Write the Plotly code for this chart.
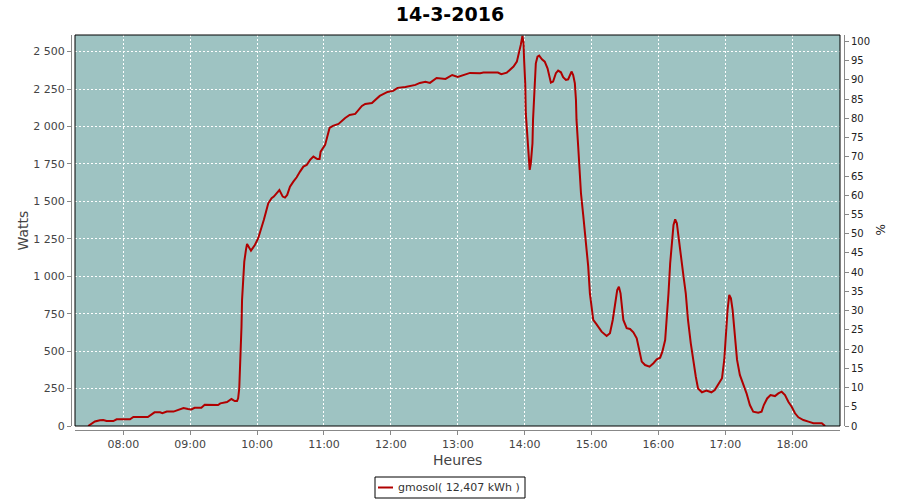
import plotly.graph_objects as go
import pandas as pd

DAY = "2016-03-14"
TITLE = "14-3-2016"
SERIES_NAME = "gmosol( 12,407 kWh )"

times = [
    "07:28:30", "07:31:30", "07:34:30", "07:39:00", "07:42:00", "07:45:00", "07:51:00", "07:54:00",
    "08:06:00", "08:09:00", "08:22:00", "08:28:00", "08:33:00", "08:35:00", "08:39:00", "08:45:00",
    "08:54:00", "08:58:00", "09:01:00", "09:04:00", "09:10:00", "09:13:00", "09:18:00", "09:25:00",
    "09:27:00", "09:33:00", "09:37:00", "09:40:00", "09:42:00", "09:43:00", "09:44:00", "09:44:30",
    "09:45:30", "09:46:00", "09:46:30", "09:47:30", "09:48:30", "09:50:00", "09:51:00", "09:54:30",
    "09:58:00", "10:01:00", "10:04:00", "10:06:00", "10:08:00", "10:10:00", "10:13:00", "10:15:00",
    "10:18:00", "10:20:00", "10:23:00", "10:25:00", "10:27:00", "10:29:30", "10:32:30", "10:35:30",
    "10:38:30", "10:41:30", "10:44:30", "10:47:30", "10:50:30", "10:54:00", "10:56:00", "10:57:00",
    "11:01:00", "11:05:00", "11:08:00", "11:13:00", "11:19:00", "11:23:00", "11:28:00", "11:34:00",
    "11:37:00", "11:43:00", "11:50:00", "11:57:00", "12:02:00", "12:06:00", "12:13:00", "12:22:00",
    "12:26:00", "12:31:00", "12:35:00", "12:41:00", "12:49:00", "12:55:00", "13:00:00", "13:07:00",
    "13:11:00", "13:20:00", "13:23:00", "13:36:00", "13:39:00", "13:44:00", "13:47:00", "13:50:00",
    "13:53:00", "13:55:00", "13:56:30", "13:58:00", "13:59:00", "13:59:30", "14:00:30", "14:01:00",
    "14:02:30", "14:03:30", "14:04:30", "14:05:30", "14:07:00", "14:07:30", "14:09:00", "14:10:00",
    "14:11:30", "14:13:00", "14:15:30", "14:18:00", "14:20:30", "14:22:00", "14:23:30", "14:25:30",
    "14:28:00", "14:30:00", "14:32:30", "14:34:30", "14:37:00", "14:39:00", "14:40:30", "14:42:00",
    "14:43:30", "14:45:00", "14:46:00", "14:46:30", "14:48:00", "14:49:00", "14:50:30", "14:52:30",
    "14:55:00", "14:57:00", "14:58:30", "15:00:00", "15:01:30", "15:04:30", "15:09:00", "15:13:30",
    "15:16:30", "15:19:00", "15:21:00", "15:23:00", "15:24:30", "15:26:00", "15:28:30", "15:31:30",
    "15:34:30", "15:37:30", "15:40:30", "15:43:00", "15:45:00", "15:48:00", "15:52:00", "15:55:30",
    "15:58:30", "16:01:30", "16:03:30", "16:06:00", "16:07:30", "16:09:00", "16:10:30", "16:12:00",
    "16:13:30", "16:15:00", "16:16:30", "16:18:00", "16:20:00", "16:22:30", "16:24:30", "16:26:30",
    "16:29:00", "16:31:00", "16:33:30", "16:35:30", "16:39:00", "16:43:00", "16:47:30", "16:50:30",
    "16:53:30", "16:57:00", "16:59:00", "17:00:30", "17:02:00", "17:03:30", "17:05:00", "17:06:30",
    "17:08:30", "17:10:30", "17:13:00", "17:16:00", "17:19:00", "17:22:00", "17:25:00", "17:29:30",
    "17:32:30", "17:34:30", "17:37:30", "17:40:30", "17:44:30", "17:47:30", "17:50:30", "17:53:30",
    "17:56:30", "17:59:30", "18:02:30", "18:05:30", "18:10:00", "18:14:30", "18:19:00", "18:26:30",
    "18:29:30",
]

watts = [
    0, 18, 30, 38, 40, 33, 33, 45,
    45, 60, 60, 91, 91, 85, 96, 96,
    120, 113, 111, 122, 122, 142, 140, 140,
    151, 160, 180, 167, 167, 185, 252, 352,
    496, 663, 842, 1020, 1097, 1176, 1216, 1171,
    1209, 1254, 1320, 1376, 1431, 1487, 1521, 1532,
    1558, 1576, 1532, 1525, 1543, 1598, 1632, 1661,
    1699, 1732, 1743, 1777, 1799, 1783, 1783, 1832,
    1877, 1990, 2004, 2017, 2057, 2077, 2084, 2137,
    2151, 2157, 2204, 2231, 2238, 2258, 2264, 2278,
    2291, 2298, 2291, 2324, 2318, 2344, 2331, 2351,
    2358, 2356, 2360, 2360, 2349, 2360, 2378, 2400,
    2433, 2489, 2545, 2605, 2556, 2445, 2289, 2089,
    1922, 1843, 1710, 1754, 1888, 2044, 2266, 2422,
    2466, 2473, 2449, 2433, 2389, 2344, 2293, 2300,
    2356, 2373, 2362, 2329, 2311, 2315, 2344, 2367,
    2344, 2289, 2177, 2044, 1866, 1732, 1554, 1410,
    1242, 1064, 886, 775, 708, 679, 630, 601,
    619, 708, 820, 908, 930, 886, 708, 653,
    648, 626, 586, 508, 430, 407, 396, 419,
    445, 456, 496, 574, 708, 886, 1087, 1242,
    1343, 1380, 1354, 1264, 1131, 997, 886, 708,
    552, 441, 329, 251, 225, 236, 225, 240,
    274, 319, 441, 641, 775, 875, 853, 775,
    596, 441, 341, 285, 218, 140, 96, 89,
    96, 140, 184, 207, 200, 218, 229, 207,
    162, 129, 85, 58, 40, 29, 18, 18,
    0,
]

x_vals = pd.to_datetime([f"{DAY} {t}" for t in times])

# Plot geometry in pixels (900 x 500 page)
W, H = 900, 500
ML, MR, MT, MB = 71, 56, 35, 70
PW, PH = W - ML - MR, H - MT - MB
OFF = 4  # gap between plot box and axis lines
dx = OFF / PW
dy = OFF / PH


def px_x(px):
    return (px - ML) / PW


def px_y(py):
    return (H - MB - py) / PH


FONT = "DejaVu Sans"
BG = "#9EC3C2"
LINE = "#B00000"

fig = go.Figure()
fig.add_trace(go.Scatter(
    x=x_vals, y=watts, mode="lines", name=SERIES_NAME,
    line=dict(color=LINE, width=2), showlegend=False,
))
# empty trace so the right-hand % axis is drawn
fig.add_trace(go.Scatter(x=[], y=[], yaxis="y2", showlegend=False, hoverinfo="skip"))

# legend box (drawn like the JFreeChart legend: small frame under the chart)
LEG_X0, LEG_X1, LEG_Y0, LEG_Y1 = 375, 525, 477, 498
LEG_YC = (LEG_Y0 + LEG_Y1) / 2

fig.update_layout(
    width=W, height=H,
    margin=dict(l=ML, r=MR, t=MT, b=MB, autoexpand=False),
    paper_bgcolor="white",
    plot_bgcolor=BG,
    separators=", ",
    font=dict(family=FONT, size=11, color="#444444"),
    title=dict(text=TITLE, x=0.5, xanchor="center", y=1 - 14 / H, yanchor="middle",
               font=dict(family=FONT, size=19, color="black", weight="bold")),
    showlegend=False,
    xaxis=dict(
        type="date",
        domain=[dx, 1 - dx],
        anchor="free", position=0,
        range=[f"{DAY} 07:16:40", f"{DAY} 18:42:50"],
        tick0=f"{DAY} 08:00:00", dtick=3600000, tickformat="%H:%M",
        showgrid=True, gridcolor="white", gridwidth=1, griddash="2px,2px",
        showline=True, linecolor="#888888", linewidth=1,
        ticks="outside", ticklen=4, tickcolor="#888888",
        tickfont=dict(family=FONT, size=11, color="#444444"),
        zeroline=False, automargin=False,
    ),
    yaxis=dict(
        domain=[dy, 1],
        anchor="free", position=0,
        range=[0, 2611],
        tick0=0, dtick=250, tickformat=",d",
        showgrid=True, gridcolor="white", gridwidth=1, griddash="2px,2px",
        showline=True, linecolor="#888888", linewidth=1,
        ticks="outside", ticklen=4, tickcolor="#888888",
        tickfont=dict(family=FONT, size=11, color="#444444"),
        zeroline=False, automargin=False,
    ),
    yaxis2=dict(
        overlaying="y", side="right",
        anchor="free", position=1,
        range=[0, 101.7],
        tick0=0, dtick=5,
        showgrid=False, zeroline=False,
        showline=True, linecolor="#888888", linewidth=1,
        ticks="outside", ticklen=4, tickcolor="#888888",
        tickfont=dict(family=FONT, size=10, color="#222222"),
        automargin=False,
    ),
    shapes=[
        dict(type="rect", xref="x domain", yref="y domain", x0=0, x1=1, y0=0, y1=1,
             line=dict(color="black", width=1), fillcolor="rgba(0,0,0,0)", layer="above"),
        dict(type="rect", xref="paper", yref="paper",
             x0=px_x(LEG_X0), x1=px_x(LEG_X1), y0=px_y(LEG_Y1), y1=px_y(LEG_Y0),
             line=dict(color="black", width=1), fillcolor="white"),
        dict(type="line", xref="paper", yref="paper",
             x0=px_x(378), x1=px_x(393), y0=px_y(LEG_YC), y1=px_y(LEG_YC),
             line=dict(color=LINE, width=2)),
    ],
    annotations=[
        dict(text="Watts", xref="paper", yref="paper", x=px_x(22), y=0.5 + dy / 2,
             xanchor="center", yanchor="middle", textangle=-90, showarrow=False,
             font=dict(family=FONT, size=14, color="#444444")),
        dict(text="%", xref="paper", yref="paper", x=px_x(880), y=0.5 + dy / 2,
             xanchor="center", yanchor="middle", textangle=-90, showarrow=False,
             font=dict(family=FONT, size=12, color="#222222")),
        dict(text="Heures", xref="paper", yref="paper", x=0.5, y=px_y(460),
             xanchor="center", yanchor="middle", showarrow=False,
             font=dict(family=FONT, size=14, color="#444444")),
        dict(text=SERIES_NAME, xref="paper", yref="paper", x=px_x(396), y=px_y(LEG_YC),
             xanchor="left", yanchor="middle", showarrow=False,
             font=dict(family=FONT, size=11, color="#333333")),
    ],
)

fig.write_html(
    "out.html",
    config={"displayModeBar": False},
    post_script="document.body.style.margin='0';document.body.style.overflow='hidden';",
)
